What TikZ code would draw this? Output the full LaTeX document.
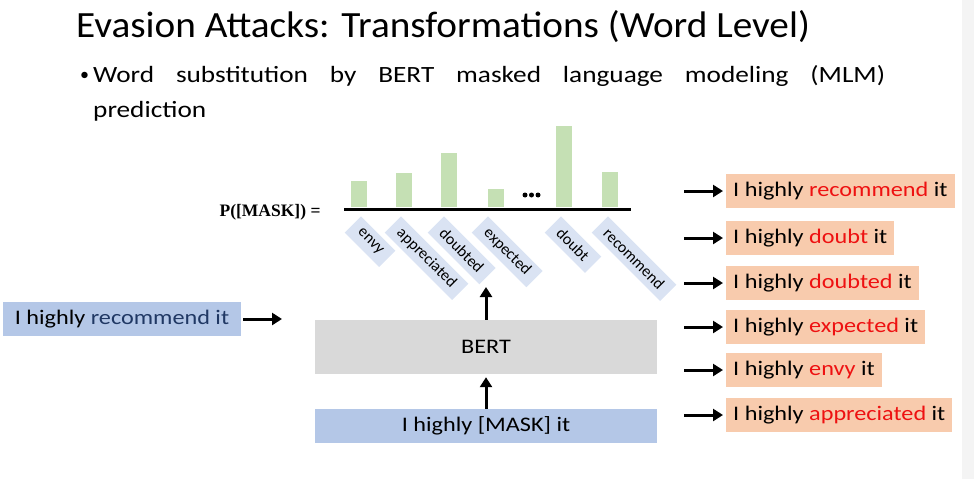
\documentclass[tikz,border=0pt]{standalone}
\usepackage{fontspec}
\setmainfont{Carlito}
\newfontfamily\wideface{Carlito}[FakeStretch=1.17]
\newfontfamily\titleface{Carlito}[FakeStretch=1.06]
\newfontfamily\serifface{Liberation Serif}
\usetikzlibrary{arrows.meta}

\definecolor{inblue}{HTML}{B4C7E7}
\definecolor{wordblue}{HTML}{DAE3F3}
\definecolor{bertgray}{HTML}{D9D9D9}
\definecolor{outpeach}{HTML}{F8CBAD}
\definecolor{bargreen}{HTML}{C5E0B4}
\definecolor{swapred}{HTML}{EE1111}
\definecolor{navytext}{HTML}{203864}
\definecolor{stripgray}{HTML}{F4F4F4}

\begin{document}
\begin{tikzpicture}[x=1pt,y=-1pt,
  sent/.style={font=\wideface\fontsize{20.7}{24}\selectfont, minimum height=34pt, inner ysep=0pt},
  outbox/.style={sent, fill=outpeach, anchor=west, inner xsep=7pt},
  wordbox/.style={fill=wordblue, rotate=-45, anchor=north west,
    font=\fontsize{16}{18}\selectfont, inner xsep=9pt, inner ysep=0pt, minimum height=23pt},
  fat/.style={line width=3pt, -{Triangle[length=10pt,width=12pt]}}
]
\useasboundingbox (0,0) rectangle (974,479);
%\draw[color=gray!20] (0,0) grid[step=50] (974,479);
\fill[stripgray] (962,0) rectangle (974,479);

\node[anchor=base west, inner sep=0pt, font=\titleface\fontsize{37}{40}\selectfont] (title) at (76,37)
  {Evasion Attacks: Transformations (Word Level)};
\node[anchor=base west, inner sep=0pt, font=\fontsize{18}{20}\selectfont] (dot) at (80,80) {\textbullet};
\node[anchor=base west, inner sep=0pt, font=\wideface\fontsize{23.3}{35}\selectfont] (point) at (93,82)
  {\parbox[t]{792pt}{Word substitution by BERT masked language modeling (MLM)\linebreak prediction}};

% bars
\draw[line width=3pt] (344,209) -- (631,209);
\foreach \bx/\top in {351/181, 396/173, 441/153, 488/189, 556/126, 602/172}
  \fill[bargreen] (\bx,207) rectangle (\bx+16,\top);
\foreach \dx in {525,531.5,538}
  \fill[] (\dx,195) circle (2.5pt);
\node[anchor=east, font=\serifface\bfseries\fontsize{17.5}{19}\selectfont] (pmask) at (324,212) {P([MASK]) =};

\node[wordbox] (w-envy) at (361,216) {envy};
\node[wordbox] (w-appr) at (401,216) {appreciated};
\node[wordbox] (w-dbtd) at (444,216) {doubted};
\node[wordbox] (w-expc) at (488,216) {expected};
\node[wordbox] (w-dbt)  at (561,216) {doubt};
\node[wordbox] (w-rec)  at (608,216) {recommend};

% model
\node[sent, fill=inblue, minimum width=238pt] (src) at (122,319)
  {I highly \textcolor{navytext}{recommend it}};
\node[sent, fill=bertgray, minimum width=342pt, minimum height=54pt] (bert) at (486,347) {BERT};
\node[sent, fill=inblue, minimum width=342pt] (mask) at (486,426) {I highly [MASK] it};

\coordinate (lin) at (282,319);
\coordinate (up) at (486,287);
\draw[fat, shorten <=2pt] (src) -- (lin);
\draw[fat, shorten >=3pt] (mask) -- (bert);
\draw[fat] (bert) -- (up);

% outputs
\foreach \nm/\cy/\word in {1/191/recommend, 2/238/doubt, 3/283/doubted, 4/327/expected, 5/370/envy, 6/415/appreciated}{
  \node[outbox] (t\nm) at (726,\cy) {I highly \textcolor{swapred}{\word} it};
  \coordinate (o\nm) at (684,\cy);
  \draw[fat, shorten >=3pt] (o\nm) -- (t\nm);
}
\end{tikzpicture}
\end{document}
